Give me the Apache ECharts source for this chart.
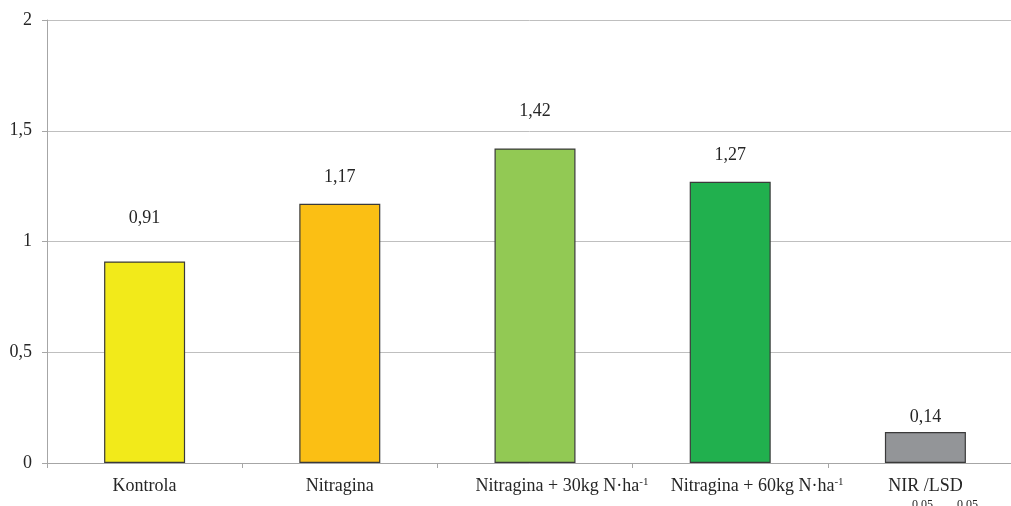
<!DOCTYPE html>
<html>
<head>
<meta charset="utf-8">
<script src="https://cdn.jsdelivr.net/npm/echarts@6/dist/echarts.min.js"></script>
<style>
html,body{margin:0;padding:0;background:#fff;}
#chart{width:1011px;height:506px;}
</style>
</head>
<body>
<div id="chart"></div>
<script>
const categories = ['Kontrola', 'Nitragina', 'Nitragina + 30kg N·ha-1', 'Nitragina + 60kg N·ha-1', 'NIR0,05/LSD0,05'];
const values = [0.91, 1.17, 1.42, 1.27, 0.14];
const barColors = ['#F2EA1A', '#FBBF14', '#92C954', '#21B04E', '#939598'];
const yTicks = [0, 0.5, 1, 1.5, 2];
// label lift above each bar (styling)
const labelLift = [35, 19, 29, 18, 7];

const FONT = '"Liberation Serif", "Times New Roman", serif';
const chart = echarts.init(document.getElementById('chart'));

function fmt(v){ return String(v).replace('.', ','); }

chart.setOption({
  animation: false,
  grid: { left: 47, right: -12, top: 20, bottom: 43, containLabel: false, outerBoundsMode: 'none' },
  xAxis: {
    type: 'category',
    data: categories,
    axisLine: { lineStyle: { color: '#a6a6a6', width: 1 } },
    axisTick: { show: true, length: 5, lineStyle: { color: '#a6a6a6' } },
    axisLabel: {
      interval: 0,
      margin: 14,
      color: '#262626',
      fontFamily: FONT,
      fontSize: 18,
      formatter: function (v, i) {
        if (i === 2 || i === 3) {
          const base = v.replace('-1', '');
          return '{pad|}{t|' + base + '}{sup|-1}';
        }
        if (i === 4) {
          return '{t|NIR /LSD}\n{pad2|}{sub|0,05}{gap|}{sub|0,05}';
        }
        return '{t|' + v + '}';
      },
      rich: {
        t: { fontFamily: FONT, fontSize: 18, color: '#262626', lineHeight: 18 },
        pad: { width: 54 },
        sup: { fontFamily: FONT, fontSize: 11, color: '#262626', padding: [0, 0, 8, 0], lineHeight: 18 },
        pad2: { width: 39 },
        gap: { width: 24 },
        sub: { fontFamily: FONT, fontSize: 12, color: '#262626', lineHeight: 19 }
      }
    }
  },
  yAxis: {
    type: 'value',
    min: 0,
    max: 2,
    interval: 0.5,
    axisLine: { show: true, lineStyle: { color: '#a6a6a6' } },
    axisTick: { show: true, length: 5, lineStyle: { color: '#a6a6a6' } },
    splitLine: { show: true, lineStyle: { color: '#bfbfbf', width: 1 } },
    axisLabel: {
      margin: 15,
      color: '#262626',
      fontFamily: FONT,
      fontSize: 18,
      formatter: function (v) { return yTicks.indexOf(v) >= 0 ? fmt(v) : ''; }
    }
  },
  series: [{
    type: 'bar',
    barWidth: 81,
    data: values.map(function (v, i) {
      return {
        value: v,
        itemStyle: { color: barColors[i], borderColor: '#3a3a3a', borderWidth: 1.2 },
        label: { distance: labelLift[i] }
      };
    }),
    label: {
      show: true,
      position: 'top',
      color: '#262626',
      fontFamily: FONT,
      fontSize: 18,
      lineHeight: 16,
      formatter: function (p) { return fmt(p.value); }
    }
  }]
});
</script>
</body>
</html>
